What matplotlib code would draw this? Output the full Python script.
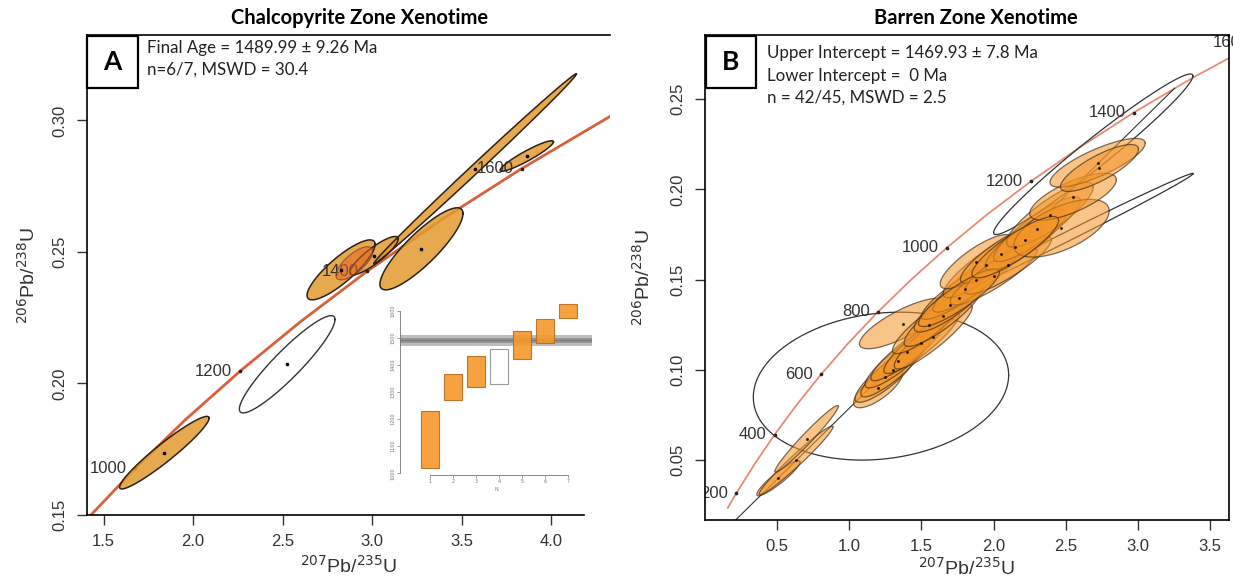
import numpy as np
import matplotlib
matplotlib.use("Agg")
import matplotlib.pyplot as plt
from matplotlib.patches import Rectangle
from matplotlib.transforms import offset_copy

# concordia points (age in Ma, 207Pb/235U, 206Pb/238U)
conc_age = [150, 200, 300, 400, 500, 600, 700, 800, 900, 1000, 1100, 1200,
            1300, 1400, 1500, 1600, 1700, 1800]
conc_x = [0.1592, 0.2177, 0.3437, 0.4828, 0.6363, 0.8056, 0.9925, 1.1987,
          1.4263, 1.6774, 1.9545, 2.2603, 2.5977, 2.9701, 3.3810, 3.8344,
          4.3348, 4.8863]
conc_y = [0.02354, 0.03151, 0.04764, 0.06402, 0.08065, 0.09754, 0.1147,
          0.1321, 0.1498, 0.1678, 0.1861, 0.2046, 0.2234, 0.2426, 0.2620,
          0.2817, 0.3018, 0.3221]

# panel A ellipses: centre x, centre y, half-range x, half-range y, rho
a_cx = [1.839, 2.826, 3.010, 3.275, 3.574, 3.863]
a_cy = [0.1737, 0.2432, 0.2486, 0.2512, 0.2816, 0.2865]
a_sx = [0.250, 0.190, 0.135, 0.232, 0.566, 0.149]
a_sy = [0.0138, 0.0114, 0.0073, 0.0156, 0.0361, 0.0058]
a_rho = [0.95, 0.85, 0.87, 0.86, 0.998, 0.93]
a_red = (2.90, 0.2457, 0.103, 0.0063, 0.72)
a_open = (2.525, 0.2073, 0.267, 0.0185, 0.92)
a_ages = [1000, 1200, 1400, 1600]

# panel A inset: weighted mean ages
n_idx = [1, 2, 3, 4, 5, 6, 7]
age_lo = [1018, 1271, 1320, 1328, 1422, 1480, 1571]
age_hi = [1228, 1367, 1434, 1458, 1523, 1570, 1625]
age_used = [True, True, True, False, True, True, True]
mean_age, mean_err, mean_err2 = 1489.99, 9.26, 21.5

# panel B ellipses
b_cx = [0.51, 0.632, 0.705, 1.20, 1.25, 1.30, 1.34, 1.40, 1.371, 1.50, 1.582,
        1.55, 1.65, 1.70, 1.80, 1.88, 1.95, 1.88, 2.00, 2.05, 2.10, 2.22,
        2.30, 2.39, 2.47, 2.55, 2.72, 2.733, 1.76, 2.15]
b_cy = [0.040, 0.0498, 0.0618, 0.090, 0.096, 0.100, 0.105, 0.110, 0.1257,
        0.115, 0.1185, 0.125, 0.130, 0.136, 0.145, 0.150, 0.158, 0.160,
        0.152, 0.164, 0.158, 0.172, 0.178, 0.186, 0.1785, 0.196, 0.2148,
        0.2119, 0.140, 0.168]
b_sx = [0.15, 0.255, 0.22, 0.17, 0.21, 0.22, 0.23, 0.25, 0.30, 0.26, 0.27,
        0.25, 0.27, 0.25, 0.30, 0.30, 0.30, 0.25, 0.30, 0.28, 0.30, 0.28,
        0.30, 0.30, 0.33, 0.30, 0.33, 0.27, 0.28, 0.30]
b_sy = [0.0098, 0.019, 0.0185, 0.011, 0.014, 0.015, 0.015, 0.016, 0.014,
        0.017, 0.018, 0.016, 0.017, 0.015, 0.017, 0.018, 0.018, 0.015, 0.016,
        0.016, 0.016, 0.017, 0.018, 0.018, 0.016, 0.013, 0.0135, 0.013,
        0.016, 0.017]
b_rho = [0.92, 0.975, 0.975, 0.75, 0.85, 0.88, 0.88, 0.90, 0.80, 0.90, 0.90,
         0.88, 0.88, 0.85, 0.90, 0.90, 0.88, 0.82, 0.88, 0.86, 0.88, 0.86,
         0.88, 0.85, 0.60, 0.72, 0.80, 0.80, 0.88, 0.87]
b_open = [(1.22, 0.091, 0.884, 0.041, 0.15),
          (2.69, 0.2195, 0.69, 0.0445, 0.975),
          (2.482, 0.1728, 0.90, 0.0361, 0.9967)]
b_ages = [200, 400, 600, 800, 1000, 1200, 1400, 1600]
upper_int = (3.2532, 0.2561)

W, H = 1233, 578
fig = plt.figure(figsize=(W / 100, H / 100), dpi=100)
tick_font = "Liberation Sans"
txt_font = "Lato"


def frac(l, t, r, b):
    return [l / W, 1 - b / H, (r - l) / W, (b - t) / H]


def ellipse_xy(cx, cy, sx, sy, rho):
    t = np.linspace(0, 2 * np.pi, 200)
    d = np.arccos(rho)
    return cx + sx * np.cos(t), cy + sy * np.cos(t - d)


def age_labels(ax, ages, clip=True, z=1):
    trans = offset_copy(ax.transData, fig=fig, x=-6, y=0, units='points')
    for age in ages:
        i = conc_age.index(age)
        ax.plot(conc_x[i], conc_y[i], 'o', ms=1.6, color='#222', zorder=1)
        ax.text(conc_x[i], conc_y[i], str(age), transform=trans,
                ha='right', va='center', fontsize=12, family=tick_font,
                color='#333', zorder=z, clip_on=clip)


def style_axes(ax):
    for s in ax.spines.values():
        s.set_linewidth(1.2)
    ax.tick_params(direction='out', length=7, width=1, colors='#333',
                   labelsize=12, pad=7)
    for lab in ax.get_xticklabels() + ax.get_yticklabels():
        lab.set_family(tick_font)
    for lab in ax.get_yticklabels():
        lab.set_rotation(90)
        lab.set_va('center')


# ---------------- panel A ----------------
axA = fig.add_axes(frac(87, 35, 610, 515))
axA.set_xlim(1.407, 4.328)
axA.set_ylim(0.15, 0.3325)
axA.plot(conc_x, conc_y, color='#D9603B', lw=2, zorder=1)
age_labels(axA, a_ages, z=2.5)
x, y = ellipse_xy(*a_open)
axA.plot(x, y, color='#333', lw=1, zorder=2)
axA.plot(a_open[0], a_open[1], 'o', ms=1.6, color='k', zorder=4)
for cx, cy, sx, sy, r in zip(a_cx, a_cy, a_sx, a_sy, a_rho):
    x, y = ellipse_xy(cx, cy, sx, sy, r)
    axA.fill(x, y, facecolor='#E39A2E', alpha=0.85, edgecolor='none', zorder=2)
    axA.plot(x, y, color='#2b2118', lw=1.1, zorder=3)
    axA.plot(cx, cy, 'o', ms=1.6, color='k', zorder=4)
x, y = ellipse_xy(*a_red)
axA.fill(x, y, facecolor='#E0642A', alpha=0.55, edgecolor='#5a2a10', lw=0.8,
         zorder=3)
axA.set_xticks([1.5, 2.0, 2.5, 3.0, 3.5, 4.0])
axA.set_yticks([0.15, 0.20, 0.25, 0.30])
axA.set_xticklabels(['1.5', '2.0', '2.5', '3.0', '3.5', '4.0'])
axA.set_yticklabels(['0.15', '0.20', '0.25', '0.30'])
style_axes(axA)
axA.spines['right'].set_visible(False)
axA.spines['bottom'].set_bounds(1.407, 4.183)
axA.set_xlabel(r'$^{207}$Pb/$^{235}$U', fontsize=14, family=tick_font,
               color='#333', labelpad=4)
axA.set_ylabel(r'$^{206}$Pb/$^{238}$U', fontsize=14, family=tick_font,
               color='#333', labelpad=10)

# inset weighted mean plot
ins = fig.add_axes(frac(400, 303, 592, 475))
ins.set_xlim(-0.3, 8.03)
ins.set_ylim(993.7, 1628)
ins.axhspan(mean_age - mean_err2, mean_age + mean_err2, color='#bdbdbd', lw=0)
ins.axhspan(mean_age - mean_err, mean_age + mean_err, color='#959595', lw=0)
ins.axhline(mean_age, color='#7a7a7a', lw=0.8)
for n, lo, hi, used in zip(n_idx, age_lo, age_hi, age_used):
    if used:
        ins.add_patch(Rectangle((n - 0.4, lo), 0.8, hi - lo, facecolor='#F5982C',
                                edgecolor='#B86A1E', lw=0.8, alpha=0.9, zorder=3))
    else:
        ins.add_patch(Rectangle((n - 0.4, lo), 0.8, hi - lo, facecolor='white',
                                edgecolor='#9a9a9a', lw=0.8, zorder=3))
ins.patch.set_alpha(0)
for s in ['top', 'right']:
    ins.spines[s].set_visible(False)
ins.spines['left'].set_bounds(1000, 1600)
ins.spines['bottom'].set_bounds(1, 7)
for s in ['left', 'bottom']:
    ins.spines[s].set_linewidth(0.6)
    ins.spines[s].set_color('#777')
ins.set_xticks(n_idx)
ins.set_yticks([1000, 1100, 1200, 1300, 1400, 1500, 1600])
ins.tick_params(length=2, width=0.5, labelsize=3.5, colors='#777', pad=1)
for lab in ins.get_yticklabels():
    lab.set_rotation(90)
    lab.set_va('center')
ins.set_xlabel('N', fontsize=3.5, color='#777', labelpad=2)

# ---------------- panel B ----------------
axB = fig.add_axes(frac(705, 35, 1229, 520))
axB.set_xlim(0.0014, 3.63)
axB.set_ylim(0.0168, 0.2856)
axB.plot(conc_x, conc_y, color='#E58C74', lw=1.3, zorder=1)
age_labels(axB, b_ages[:-1])
age_labels(axB, b_ages[-1:], clip=False)
axB.plot([0, upper_int[0]], [0, upper_int[1]], color='#333', lw=0.8, zorder=1)
for e in b_open:
    x, y = ellipse_xy(*e)
    axB.plot(x, y, color='#333', lw=0.9, zorder=2)
for cx, cy, sx, sy, r in zip(b_cx, b_cy, b_sx, b_sy, b_rho):
    x, y = ellipse_xy(cx, cy, sx, sy, r)
    axB.fill(x, y, facecolor='#F39426', alpha=0.55, edgecolor='none', zorder=3)
    axB.plot(x, y, color='#3a2614', lw=0.9, alpha=0.65, zorder=3)
    axB.plot(cx, cy, 'o', ms=1.2, color='k', alpha=0.7, zorder=4)
axB.set_xticks([0.5, 1.0, 1.5, 2.0, 2.5, 3.0, 3.5])
axB.set_yticks([0.05, 0.10, 0.15, 0.20, 0.25])
axB.set_xticklabels(['0.5', '1.0', '1.5', '2.0', '2.5', '3.0', '3.5'])
axB.set_yticklabels(['0.05', '0.10', '0.15', '0.20', '0.25'])
style_axes(axB)
axB.set_xlabel(r'$^{207}$Pb/$^{235}$U', fontsize=14, family=tick_font,
               color='#333', labelpad=2)
axB.set_ylabel(r'$^{206}$Pb/$^{238}$U', fontsize=14, family=tick_font,
               color='#333', labelpad=12)

# titles, panel letters and annotations
fig.text(360 / W, 1 - 18 / H, 'Chalcopyrite Zone Xenotime', ha='center',
         va='center', fontsize=14.5, fontweight='bold', family=txt_font)
fig.text(976 / W, 1 - 18 / H, 'Barren Zone Xenotime', ha='center',
         va='center', fontsize=14.5, fontweight='bold', family=txt_font)
for (l, t, r, b), letter in [((87, 36, 138, 88), 'A'), ((706, 36, 756, 88), 'B')]:
    fig.add_artist(Rectangle((l / W, 1 - b / H), (r - l) / W, (b - t) / H,
                             transform=fig.transFigure, facecolor='white',
                             edgecolor='black', lw=1.6, zorder=5))
    fig.text((l + r) / 2 / W, 1 - (t + b) / 2 / H, letter, ha='center',
             va='center', fontsize=19, fontweight='bold', family=txt_font,
             zorder=6)
for yy, s in [(48, 'Final Age = 1489.99 ± 9.26 Ma'), (70, 'n=6/7, MSWD = 30.4')]:
    fig.text(147 / W, 1 - yy / H, s, ha='left', va='center', fontsize=12.2,
             family=txt_font, color='#222')
for yy, s in [(53, 'Upper Intercept = 1469.93 ± 7.8 Ma'),
              (76, 'Lower Intercept =  0 Ma'),
              (98, 'n = 42/45, MSWD = 2.5')]:
    fig.text(767 / W, 1 - yy / H, s, ha='left', va='center', fontsize=12.2,
             family=txt_font, color='#222')

fig.savefig('out.png', dpi=100)
